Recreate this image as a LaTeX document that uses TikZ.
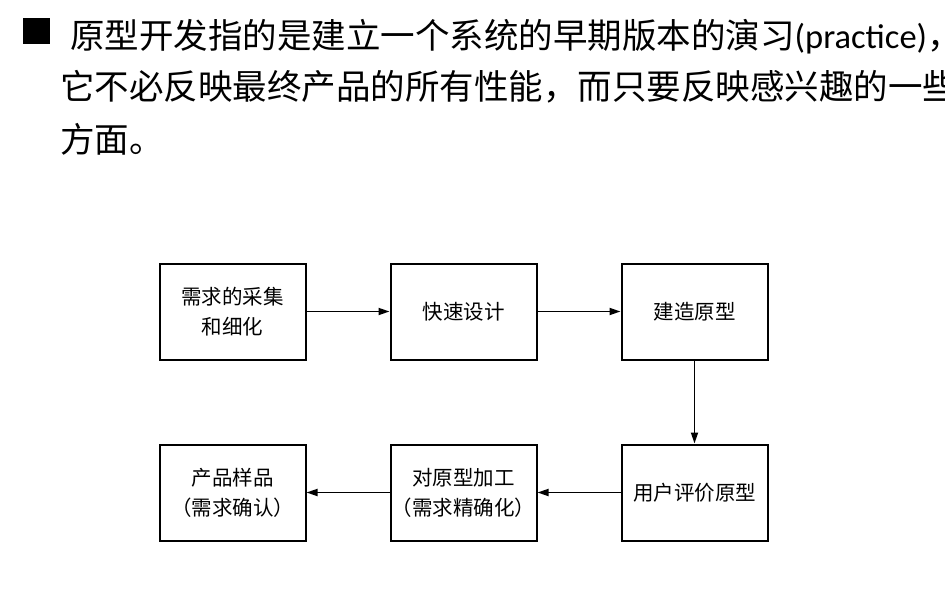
\documentclass[tikz,border=0pt]{standalone}
\usepackage{fontspec}
\setmainfont{Noto Sans CJK SC}
\newfontfamily\latinfont{Carlito}
\usetikzlibrary{arrows.meta,positioning}

\begin{document}
\begin{tikzpicture}[x=1pt,y=-1pt,
  >={Triangle[length=11pt,width=7pt]},
  box/.style={draw,line width=2pt,minimum width=146pt,minimum height=96pt,
    inner sep=0pt,align=center,font=\fontsize{20.5}{30}\selectfont},
  txt/.style={anchor=west,inner sep=0pt,font=\fontsize{34.5}{34.5}\selectfont},
  flow/.style={->,line width=1.8pt}
]
\useasboundingbox (0,0) rectangle (945,599);
\clip (0,0) rectangle (945,599);
% header text
\node[fill=black,minimum width=27pt,minimum height=26pt,inner sep=0pt] (bullet) at (36.5,31) {};
\node[txt] (line1) at (70,37) {原型开发指的是建立一个系统的早期版本的演习{\latinfont(practice)}，};
\node[txt] (line2) at (60,87) {它不必反映最终产品的所有性能，而只要反映感兴趣的一些};
\node[txt] (line3) at (60,139) {方面。};
% process
\node[box] (collect) at (232.5,311.5) {需求的采集\\和细化};
\node[box,right=83pt of collect] (design) {快速设计};
\node[box,right=83pt of design] (build) {建造原型};
\node[box,below=83pt of build] (evaluate) {用户评价原型};
\node[box,left=83pt of evaluate] (refine) {对原型加工\\（需求精确化）};
\node[box,left=83pt of refine] (product) {产品样品\\（需求确认）};
\draw[flow] (collect) -- (design);
\draw[flow] (design) -- (build);
\draw[flow] (build) -- (evaluate);
\draw[flow] (evaluate) -- (refine);
\draw[flow] (refine) -- (product);
\end{tikzpicture}
\end{document}
